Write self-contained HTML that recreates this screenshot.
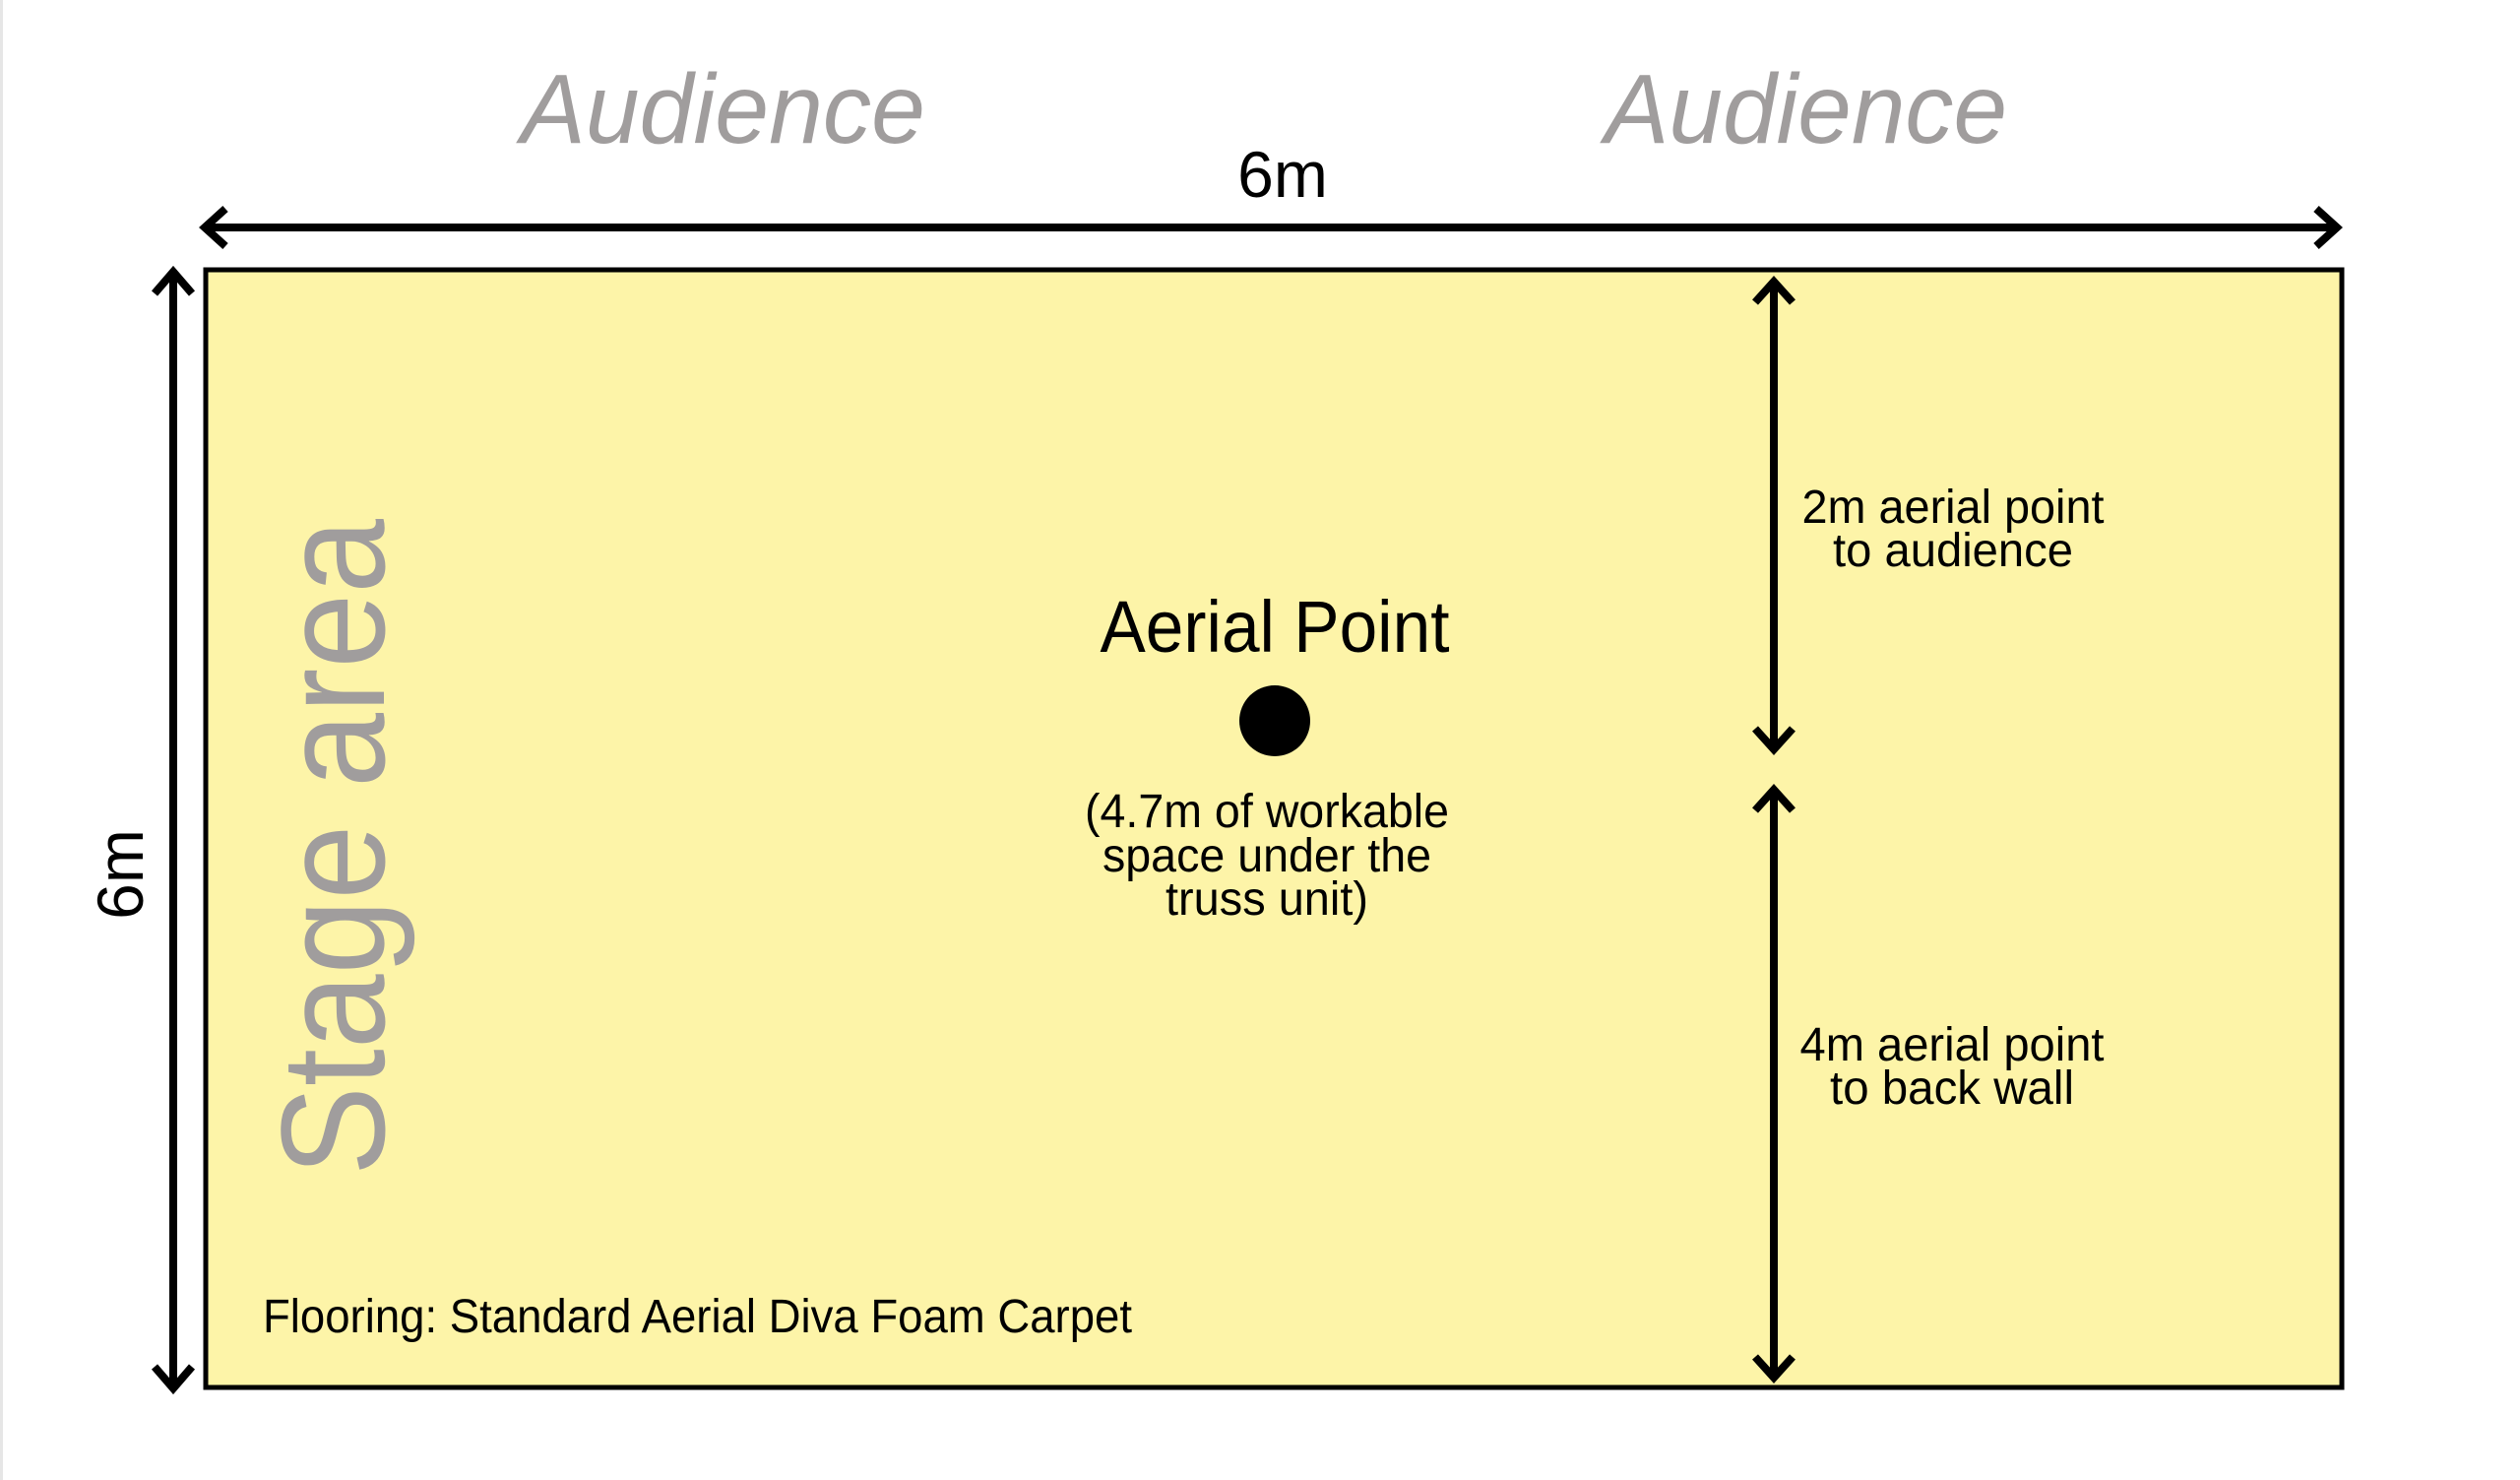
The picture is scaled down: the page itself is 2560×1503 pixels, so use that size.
<!DOCTYPE html>
<html><head><meta charset="utf-8"><style>
html,body{margin:0;padding:0;background:#fff;}
svg{display:block;}
text{font-family:"Liberation Sans",sans-serif;}
</style></head><body>
<svg width="2560" height="1503" viewBox="0 0 2560 1503" xmlns="http://www.w3.org/2000/svg">
<rect x="0" y="0" width="3" height="1503" fill="#e6e6e6"/>
<rect x="209" y="274" width="2170" height="1135" fill="#fdf4a8" stroke="#000" stroke-width="5"/>
<g stroke="#000" stroke-width="8" fill="none" stroke-linecap="butt">
<line x1="210" y1="231" x2="2372" y2="231"/>
<polyline points="229,212 208,231 229,250"/>
<polyline points="2353,212 2374,231 2353,250"/>
<line x1="176" y1="277" x2="176" y2="1408"/>
<polyline points="157,298 176,276 195,298"/>
<polyline points="157,1388 176,1410 195,1388"/>
<line x1="1802" y1="288" x2="1802" y2="758"/>
<polyline points="1783,307 1802,286 1821,307"/>
<polyline points="1783,740 1802,761 1821,740"/>
<line x1="1802" y1="804" x2="1802" y2="1396"/>
<polyline points="1783,823 1802,802 1821,823"/>
<polyline points="1783,1378 1802,1399 1821,1378"/>
</g>
<text x="529" y="145" font-size="100" font-style="italic" fill="#a09d9d" textLength="411" lengthAdjust="spacingAndGlyphs">Audience</text>
<text x="1630" y="145" font-size="100" font-style="italic" fill="#a09d9d" textLength="409" lengthAdjust="spacingAndGlyphs">Audience</text>
<text x="1303" y="200" font-size="66" text-anchor="middle" fill="#000">6m</text>
<text transform="translate(145,888) rotate(-90)" font-size="66" text-anchor="middle" fill="#000">6m</text>
<text transform="translate(390,1194) rotate(-90)" font-size="150" fill="#a09d9d" textLength="667" lengthAdjust="spacingAndGlyphs">Stage area</text>
<text x="1295" y="662" font-size="74" text-anchor="middle" fill="#000" textLength="355" lengthAdjust="spacingAndGlyphs">Aerial Point</text>
<circle cx="1295" cy="732" r="36" fill="#000"/>
<g font-size="48" fill="#000" text-anchor="middle">
<text x="1287" y="840" textLength="370" lengthAdjust="spacingAndGlyphs">(4.7m of workable</text>
<text x="1287" y="885" textLength="334" lengthAdjust="spacingAndGlyphs">space under the</text>
<text x="1287" y="929" textLength="206" lengthAdjust="spacingAndGlyphs">truss unit)</text>
<text x="1984" y="531" textLength="307" lengthAdjust="spacingAndGlyphs">2m aerial point</text>
<text x="1984" y="575" textLength="244" lengthAdjust="spacingAndGlyphs">to audience</text>
<text x="1983" y="1077" textLength="309" lengthAdjust="spacingAndGlyphs">4m aerial point</text>
<text x="1983" y="1121" textLength="248" lengthAdjust="spacingAndGlyphs">to back wall</text>
</g>
<text x="267" y="1353" font-size="48" fill="#000" textLength="883" lengthAdjust="spacingAndGlyphs">Flooring: Standard Aerial Diva Foam Carpet</text>
</svg>
</body></html>
